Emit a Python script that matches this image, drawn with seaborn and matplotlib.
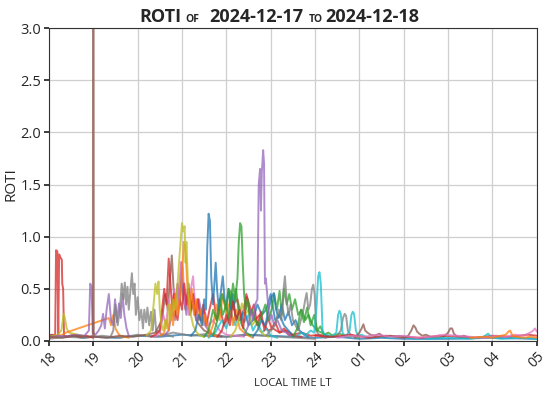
import numpy as np
import pandas as pd
import matplotlib
matplotlib.use('Agg')
import matplotlib.pyplot as plt
import seaborn as sns

# ── data: local time (hours, 24+ = next day) and ROTI per satellite track ──
t_red1 = [18.00, 18.08, 18.14, 18.16, 18.19, 18.21, 18.23, 18.26, 18.29, 18.30, 18.32, 18.34, 18.40, 18.55, 18.70, 18.85, 19.00]
r_red1 = [0.05, 0.06, 0.05, 0.87, 0.86, 0.06, 0.83, 0.80, 0.78, 0.55, 0.50, 0.05, 0.04, 0.06, 0.04, 0.05, 0.03]

t_olive1 = [18.00, 18.10, 18.20, 18.28, 18.33, 18.36, 18.40, 18.45, 18.55, 18.65, 18.75]
r_olive1 = [0.04, 0.05, 0.06, 0.10, 0.26, 0.22, 0.12, 0.08, 0.07, 0.06, 0.05]

t_orange1 = [18.00, 18.15, 18.30, 18.38, 19.35, 19.40, 19.45, 19.50, 19.55, 19.60, 19.70, 19.80]
r_orange1 = [0.03, 0.04, 0.06, 0.08, 0.22, 0.15, 0.25, 0.12, 0.08, 0.05, 0.04, 0.03]

t_purple1 = [18.00, 18.20, 18.40, 18.60, 18.80, 18.90, 18.93, 18.96, 18.99, 19.05, 19.12, 19.18, 19.22, 19.26,
             19.30, 19.35, 19.40, 19.45, 19.49, 19.53, 19.58, 19.62, 19.66, 19.70, 19.75, 19.80]
r_purple1 = [0.03, 0.05, 0.04, 0.06, 0.05, 0.10, 0.55, 0.52, 0.08, 0.06, 0.10, 0.15, 0.26, 0.12,
             0.30, 0.45, 0.20, 0.15, 0.40, 0.18, 0.36, 0.22, 0.45, 0.25, 0.12, 0.05]

t_gray1 = [19.40, 19.45, 19.50, 19.55, 19.60, 19.64, 19.68, 19.71, 19.74, 19.77, 19.80, 19.84, 19.87, 19.90, 19.93, 19.96,
           20.00, 20.04, 20.08, 20.12, 20.15, 20.19, 20.22, 20.26, 20.30, 20.34, 20.38, 20.42, 20.48, 20.55, 20.65, 20.80]
r_gray1 = [0.05, 0.10, 0.35, 0.15, 0.30, 0.55, 0.40, 0.56, 0.35, 0.52, 0.30, 0.50, 0.65, 0.45, 0.55, 0.25,
           0.42, 0.20, 0.30, 0.12, 0.30, 0.18, 0.32, 0.15, 0.28, 0.10, 0.30, 0.08, 0.10, 0.05, 0.06, 0.04]

t_olive2 = [20.20, 20.30, 20.36, 20.40, 20.44, 20.47, 20.50, 20.54, 20.58, 20.62, 20.66, 20.70, 20.75, 20.80, 20.85,
            20.90, 20.95, 21.00, 21.03, 21.06, 21.08, 21.10, 21.13, 21.16, 21.20, 21.25, 21.30, 21.40, 21.50]
r_olive2 = [0.05, 0.10, 0.35, 0.55, 0.45, 0.57, 0.30, 0.15, 0.10, 0.20, 0.12, 0.35, 0.20, 0.40, 0.30,
            0.55, 0.85, 1.13, 1.05, 1.10, 0.75, 0.95, 0.60, 0.40, 0.25, 0.15, 0.10, 0.05, 0.04]

t_orange2 = [20.50, 20.60, 20.65, 20.70, 20.75, 20.80, 20.85, 20.90, 20.95, 21.00, 21.04, 21.07, 21.10, 21.13, 21.17,
             21.22, 21.27, 21.32, 21.37, 21.42, 21.47, 21.52, 21.60, 21.70, 21.80]
r_orange2 = [0.05, 0.08, 0.20, 0.10, 0.35, 0.15, 0.45, 0.25, 0.40, 0.60, 0.95, 0.92, 0.70, 0.45, 0.30,
             0.50, 0.25, 0.40, 0.20, 0.30, 0.15, 0.25, 0.10, 0.06, 0.04]

t_brown1 = [18.00, 18.30, 18.60, 18.90, 18.99, 19.00, 19.01, 19.05, 19.30, 19.60, 19.90, 20.20, 20.40, 20.55, 20.62,
            20.68, 20.73, 20.77, 20.81, 20.85, 20.90, 20.95, 20.99, 21.03, 21.08, 21.13, 21.18, 21.25, 21.32, 21.40,
            21.50, 21.60, 21.75, 21.90]
r_brown1 = [0.04, 0.03, 0.05, 0.04, 0.05, 9.00, 0.05, 0.04, 0.03, 0.05, 0.04, 0.06, 0.08, 0.20, 0.45,
            0.30, 0.60, 0.82, 0.50, 0.35, 0.55, 0.40, 0.75, 0.45, 0.30, 0.50, 0.25, 0.35, 0.20, 0.15,
            0.10, 0.08, 0.05, 0.04]

t_pink1 = [20.40, 20.50, 20.58, 20.64, 20.70, 20.76, 20.82, 20.88, 20.94, 20.98, 21.02, 21.06, 21.10, 21.15, 21.20,
           21.25, 21.30, 21.36, 21.42, 21.50, 21.60, 21.70, 21.85, 22.00, 22.20, 22.40]
r_pink1 = [0.04, 0.08, 0.25, 0.15, 0.40, 0.20, 0.50, 0.30, 0.55, 0.76, 0.70, 0.35, 0.45, 0.25, 0.50,
           0.62, 0.30, 0.40, 0.20, 0.30, 0.15, 0.20, 0.10, 0.06, 0.05, 0.04]

t_red2 = [20.30, 20.40, 20.50, 20.55, 20.60, 20.65, 20.70, 20.74, 20.78, 20.82, 20.86, 20.90, 20.95, 21.00, 21.05,
          21.10, 21.15, 21.20, 21.25, 21.30, 21.36, 21.42, 21.48, 21.55, 21.62, 21.70, 21.78, 21.86, 21.95, 22.05,
          22.15, 22.25, 22.35, 22.45, 22.55, 22.65, 22.75, 22.85, 22.95, 23.05, 23.20, 23.35, 23.50, 23.70, 23.90,
          24.10, 24.30]
r_red2 = [0.04, 0.06, 0.10, 0.30, 0.50, 0.35, 0.79, 0.55, 0.30, 0.45, 0.25, 0.20, 0.40, 0.30, 0.55,
          0.35, 0.50, 0.30, 0.45, 0.25, 0.40, 0.20, 0.35, 0.15, 0.30, 0.45, 0.20, 0.30, 0.15, 0.25,
          0.35, 0.40, 0.20, 0.45, 0.30, 0.20, 0.25, 0.15, 0.10, 0.12, 0.08, 0.10, 0.06, 0.08, 0.05,
          0.06, 0.04]

t_red4 = [21.80, 21.90, 22.00, 22.08, 22.15, 22.22, 22.30, 22.38, 22.46, 22.54, 22.62, 22.70, 22.78, 22.86, 22.94,
          23.02, 23.10, 23.20, 23.30, 23.40, 23.55, 23.70]
r_red4 = [0.04, 0.10, 0.25, 0.15, 0.38, 0.20, 0.30, 0.12, 0.42, 0.25, 0.35, 0.15, 0.28, 0.10, 0.22,
          0.12, 0.18, 0.08, 0.12, 0.06, 0.05, 0.04]

t_purple3 = [20.60, 20.70, 20.78, 20.84, 20.90, 20.95, 21.00, 21.05, 21.10, 21.15, 21.20, 21.26, 21.32, 21.38, 21.45,
             21.52, 21.60, 21.70, 21.80]
r_purple3 = [0.05, 0.10, 0.30, 0.20, 0.50, 0.35, 0.60, 0.40, 0.25, 0.55, 0.30, 0.45, 0.20, 0.40, 0.25,
             0.15, 0.10, 0.06, 0.04]

t_blue1 = [21.20, 21.30, 21.38, 21.45, 21.50, 21.54, 21.57, 21.60, 21.63, 21.66, 21.70, 21.73, 21.76, 21.79, 21.83,
           21.87, 21.92, 21.96, 22.00, 22.05, 22.10, 22.15, 22.20, 22.30, 22.40, 22.50, 22.60, 22.70, 22.80, 22.90,
           23.00, 23.10, 23.20, 23.30, 23.40, 23.50]
r_blue1 = [0.05, 0.10, 0.25, 0.15, 0.40, 0.30, 0.90, 1.22, 1.15, 0.60, 0.35, 0.55, 0.75, 0.50, 0.30,
           0.45, 0.62, 0.40, 0.35, 0.50, 0.30, 0.45, 0.25, 0.20, 0.30, 0.15, 0.20, 0.35, 0.25, 0.30,
           0.45, 0.20, 0.25, 0.15, 0.10, 0.05]

t_blue2 = [22.60, 22.70, 22.80, 22.88, 22.95, 23.02, 23.07, 23.12, 23.18, 23.25, 23.32, 23.40, 23.48, 23.56, 23.65,
           23.75, 23.85]
r_blue2 = [0.04, 0.10, 0.20, 0.15, 0.30, 0.42, 0.46, 0.30, 0.22, 0.35, 0.20, 0.28, 0.15, 0.20, 0.10, 0.06, 0.04]

t_cyan0 = [21.60, 21.75, 21.90, 22.00, 22.10, 22.20, 22.30, 22.40, 22.50, 22.60, 22.70, 22.80, 22.90, 23.00, 23.15]
r_cyan0 = [0.03, 0.08, 0.20, 0.12, 0.28, 0.15, 0.32, 0.18, 0.25, 0.10, 0.18, 0.08, 0.12, 0.05, 0.03]

t_orange4 = [21.60, 21.70, 21.78, 21.85, 21.92, 22.00, 22.08, 22.15, 22.22, 22.30, 22.40, 22.50, 22.60]
r_orange4 = [0.04, 0.15, 0.35, 0.20, 0.45, 0.25, 0.38, 0.15, 0.30, 0.12, 0.08, 0.05, 0.03]

t_green2 = [21.50, 21.60, 21.70, 21.78, 21.85, 21.92, 22.00, 22.06, 22.10, 22.16, 22.22, 22.28, 22.35, 22.45, 22.55]
r_green2 = [0.04, 0.10, 0.30, 0.20, 0.40, 0.25, 0.35, 0.20, 0.48, 0.30, 0.50, 0.25, 0.15, 0.08, 0.05]

t_green1 = [21.70, 21.80, 21.90, 22.00, 22.05, 22.10, 22.15, 22.20, 22.25, 22.28, 22.31, 22.34, 22.37, 22.40, 22.44,
            22.48, 22.52, 22.58, 22.65, 22.72, 22.80, 22.88, 22.95, 23.02, 23.08, 23.14, 23.20, 23.25, 23.30, 23.36,
            23.42, 23.48, 23.55, 23.62, 23.70, 23.78, 23.85, 23.95, 24.05, 24.15, 24.25, 24.40]
r_green1 = [0.05, 0.20, 0.45, 0.30, 0.50, 0.35, 0.55, 0.40, 0.60, 0.95, 1.13, 1.10, 0.75, 0.45, 0.30,
            0.40, 0.25, 0.30, 0.20, 0.15, 0.25, 0.35, 0.20, 0.30, 0.45, 0.30, 0.48, 0.25, 0.50, 0.35,
            0.45, 0.30, 0.40, 0.25, 0.30, 0.20, 0.25, 0.15, 0.10, 0.08, 0.05, 0.04]

t_green3 = [23.50, 23.60, 23.68, 23.75, 23.82, 23.90, 23.98, 24.05, 24.12, 24.20, 24.30, 24.40, 24.55, 24.70, 24.85, 25.00]
r_green3 = [0.04, 0.12, 0.30, 0.18, 0.32, 0.15, 0.25, 0.10, 0.14, 0.06, 0.08, 0.05, 0.07, 0.04, 0.05, 0.03]

t_olive3 = [22.10, 22.20, 22.28, 22.35, 22.42, 22.50, 22.58, 22.66, 22.75, 22.85, 22.95]
r_olive3 = [0.04, 0.10, 0.20, 0.36, 0.25, 0.30, 0.15, 0.20, 0.10, 0.06, 0.04]

t_purple2 = [22.40, 22.50, 22.55, 22.60, 22.65, 22.70, 22.73, 22.76, 22.78, 22.80, 22.83, 22.85, 22.87, 22.89, 22.92,
             22.95, 22.98, 23.02, 23.08, 23.15, 23.25, 23.35, 23.45]
r_purple2 = [0.05, 0.15, 0.30, 0.20, 0.35, 0.40, 1.50, 1.65, 1.25, 1.62, 1.83, 1.70, 0.55, 0.60, 0.45,
             0.30, 0.20, 0.25, 0.15, 0.20, 0.10, 0.08, 0.05]

t_gray2 = [22.90, 23.00, 23.10, 23.18, 23.24, 23.28, 23.32, 23.36, 23.40, 23.45, 23.50, 23.56, 23.62, 23.68, 23.74,
           23.78, 23.81, 23.85, 23.89, 23.93, 23.96, 23.99, 24.03, 24.08, 24.15, 24.25]
r_gray2 = [0.05, 0.10, 0.15, 0.30, 0.20, 0.45, 0.62, 0.40, 0.25, 0.35, 0.20, 0.15, 0.10, 0.20, 0.30,
           0.40, 0.46, 0.30, 0.35, 0.50, 0.54, 0.45, 0.10, 0.06, 0.04, 0.03]

t_cyan1 = [23.60, 23.70, 23.80, 23.90, 23.98, 24.03, 24.07, 24.10, 24.13, 24.17, 24.22, 24.28, 24.35, 24.42, 24.48,
           24.52, 24.55, 24.58, 24.62, 24.67, 24.72, 24.78, 24.82, 24.85, 24.88, 24.92, 24.97, 25.05, 25.15, 25.30,
           25.50, 25.70, 25.90, 26.10, 26.30, 26.50]
r_cyan1 = [0.05, 0.08, 0.06, 0.10, 0.08, 0.30, 0.62, 0.66, 0.55, 0.10, 0.05, 0.06, 0.04, 0.06, 0.08,
           0.25, 0.29, 0.26, 0.08, 0.05, 0.06, 0.10, 0.25, 0.28, 0.26, 0.10, 0.05, 0.06, 0.04, 0.03,
           0.04, 0.03, 0.05, 0.03, 0.02, 0.03]

t_gray3 = [24.50, 24.58, 24.63, 24.67, 24.70, 24.74, 24.80, 24.90]
r_gray3 = [0.05, 0.10, 0.22, 0.26, 0.24, 0.10, 0.06, 0.04]

t_brown2 = [24.90, 25.00, 25.05, 25.09, 25.13, 25.18, 25.25, 25.35, 25.45, 25.55, 25.70, 25.85, 26.00, 26.10, 26.17,
            26.22, 26.26, 26.30, 26.35, 26.42, 26.50, 26.60, 26.75, 26.90, 27.00, 27.05, 27.09, 27.13, 27.18, 27.25,
            27.35, 27.50, 27.70]
r_brown2 = [0.03, 0.08, 0.12, 0.16, 0.10, 0.08, 0.06, 0.05, 0.07, 0.04, 0.05, 0.04, 0.03, 0.05, 0.10,
            0.15, 0.13, 0.09, 0.07, 0.05, 0.06, 0.04, 0.03, 0.04, 0.08, 0.12, 0.12, 0.07, 0.05, 0.04,
            0.05, 0.03, 0.03]

t_pink2 = [24.50, 24.80, 25.10, 25.40, 25.70, 26.00, 26.30, 26.60, 26.90, 27.20, 27.50, 27.80, 28.10, 28.30, 28.50,
           28.70, 28.85, 28.92, 28.96, 29.00]
r_pink2 = [0.03, 0.05, 0.04, 0.06, 0.04, 0.05, 0.03, 0.04, 0.06, 0.05, 0.04, 0.03, 0.05, 0.04, 0.06,
           0.05, 0.08, 0.10, 0.12, 0.09]

t_orange3 = [27.50, 27.80, 28.00, 28.20, 28.30, 28.36, 28.40, 28.45, 28.55, 28.70, 28.85, 29.00]
r_orange3 = [0.03, 0.04, 0.03, 0.05, 0.06, 0.09, 0.10, 0.05, 0.04, 0.03, 0.04, 0.03]

t_red3 = [24.00, 24.40, 24.80, 25.20, 25.60, 26.00, 26.40, 26.80, 27.20, 27.60, 28.00, 28.40, 28.80, 29.00]
r_red3 = [0.05, 0.04, 0.06, 0.03, 0.05, 0.04, 0.03, 0.05, 0.04, 0.03, 0.05, 0.04, 0.06, 0.05]

t_cyan2 = [26.50, 27.00, 27.50, 27.80, 27.90, 27.95, 28.00, 28.20, 28.60, 29.00]
r_cyan2 = [0.02, 0.03, 0.02, 0.04, 0.07, 0.05, 0.03, 0.02, 0.03, 0.02]

t_blue0 = [18.00, 18.25, 18.50, 18.75, 19.00, 19.50, 20.00, 20.50, 21.00, 21.50, 22.00, 22.50, 23.00, 23.50,
           24.00, 24.50, 25.00, 25.50, 26.00, 27.00, 28.00, 29.00]
r_blue0 = [0.06, 0.04, 0.05, 0.03, 0.04, 0.03, 0.05, 0.04, 0.06, 0.05, 0.04, 0.06, 0.05, 0.04,
           0.03, 0.04, 0.02, 0.03, 0.02, 0.02, 0.03, 0.02]

t_gray0 = [18.00, 18.40, 18.80, 19.20, 19.60, 20.00, 20.40, 20.80, 21.20, 21.60, 22.00, 22.40, 22.80, 23.20, 23.60, 24.00]
r_gray0 = [0.02, 0.04, 0.03, 0.05, 0.03, 0.06, 0.04, 0.08, 0.05, 0.07, 0.04, 0.06, 0.05, 0.04, 0.03, 0.02]

tracks = [
    (t_blue0, r_blue0, 'tab:blue'), (t_gray0, r_gray0, 'tab:gray'), (t_red1, r_red1, 'tab:red'),
    (t_olive1, r_olive1, 'tab:olive'), (t_orange1, r_orange1, 'tab:orange'), (t_purple1, r_purple1, 'tab:purple'),
    (t_gray1, r_gray1, 'tab:gray'), (t_brown1, r_brown1, 'tab:brown'), (t_purple3, r_purple3, 'tab:purple'),
    (t_pink1, r_pink1, 'tab:pink'), (t_red2, r_red2, 'tab:red'), (t_orange2, r_orange2, 'tab:orange'),
    (t_olive2, r_olive2, 'tab:olive'), (t_cyan0, r_cyan0, 'tab:cyan'), (t_orange4, r_orange4, 'tab:orange'),
    (t_green2, r_green2, 'tab:green'), (t_blue1, r_blue1, 'tab:blue'), (t_olive3, r_olive3, 'tab:olive'),
    (t_red4, r_red4, 'tab:red'), (t_green1, r_green1, 'tab:green'), (t_blue2, r_blue2, 'tab:blue'),
    (t_purple2, r_purple2, 'tab:purple'), (t_gray2, r_gray2, 'tab:gray'), (t_green3, r_green3, 'tab:green'),
    (t_gray3, r_gray3, 'tab:gray'), (t_cyan1, r_cyan1, 'tab:cyan'), (t_red3, r_red3, 'tab:red'),
    (t_brown2, r_brown2, 'tab:brown'), (t_cyan2, r_cyan2, 'tab:cyan'), (t_pink2, r_pink2, 'tab:pink'),
    (t_orange3, r_orange3, 'tab:orange'),
]

hour_ticks = [18, 19, 20, 21, 22, 23, 24, 25, 26, 27, 28, 29]
hour_labels = ['18', '19', '20', '21', '22', '23', '24', '01', '02', '03', '04', '05']

# ── plot ──
sns.set_theme(style='ticks')
plt.rcParams['font.family'] = ['Open Sans', 'DejaVu Sans']

fig = plt.figure(figsize=(5.5, 3.96), dpi=100)
ax = fig.add_axes([0.089, 0.139, 0.887, 0.790])

for t, r, c in tracks:
    df = pd.DataFrame({'LT': t, 'ROTI': r})
    sns.lineplot(data=df, x='LT', y='ROTI', color=c, alpha=0.75, lw=1.4,
                 estimator=None, sort=False, ax=ax)

ax.set_xlim(18, 29)
ax.set_ylim(0, 3.0)
ax.set_xticks(hour_ticks)
ax.set_xticklabels(hour_labels, rotation=45, fontsize=10)
ax.set_yticks(np.arange(0, 3.01, 0.5))
ax.tick_params(axis='y', labelsize=10.5, length=3.5, pad=2)
ax.tick_params(axis='x', length=3.5, pad=2)
ax.grid(True, color='#cfcfcf', lw=0.9)
ax.set_axisbelow(True)
ax.set_ylabel('ROTI', fontsize=11, va='center')
ax.yaxis.set_label_coords(-0.077, 0.5)
ax.set_xlabel('LOCAL TIME LT', fontsize=8, va='center')
ax.xaxis.set_label_coords(0.5, -0.136)
for s in ax.spines.values():
    s.set_color('#333333'); s.set_linewidth(0.8)

# title with small "OF" / "TO"
yb = 1 - 22/396
fig.text(139/550, yb, 'ROTI', fontsize=13, fontweight='bold', va='baseline')
fig.text(185/550, yb, 'OF', fontsize=7.5, fontweight='bold', va='baseline')
fig.text(209/550, yb, '2024-12-17', fontsize=13, fontweight='bold', va='baseline')
fig.text(309/550, yb, 'TO', fontsize=7.5, fontweight='bold', va='baseline')
fig.text(325/550, yb, '2024-12-18', fontsize=13, fontweight='bold', va='baseline')

fig.savefig('out.png', dpi=100)
